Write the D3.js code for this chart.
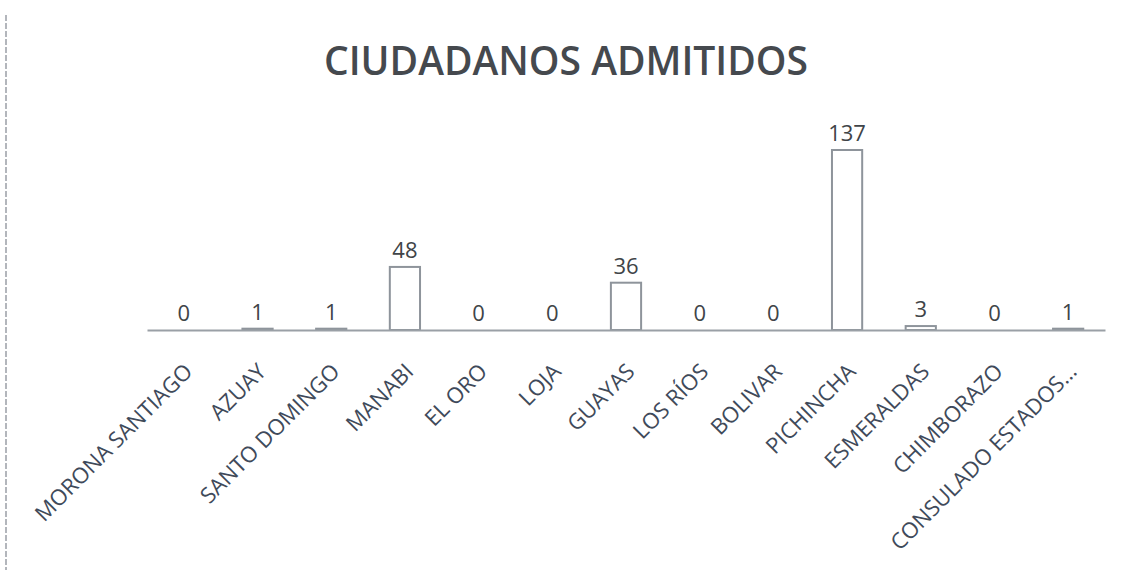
<!DOCTYPE html>
<html>
<head>
<meta charset="utf-8">
<script src="https://cdn.jsdelivr.net/npm/d3@7"></script>
<style>
  body { margin: 0; background: #fff; }
  svg { display: block; }
</style>
</head>
<body>
<div id="chart"></div>
<script>
// --- DATA ---
const categories = ['MORONA SANTIAGO', 'AZUAY', 'SANTO DOMINGO', 'MANABI', 'EL ORO', 'LOJA',
  'GUAYAS', 'LOS RÍOS', 'BOLIVAR', 'PICHINCHA', 'ESMERALDAS', 'CHIMBORAZO', 'CONSULADO ESTADOS…'];
const values = [0, 1, 1, 48, 0, 0, 36, 0, 0, 137, 3, 0, 1];
const chartTitle = 'CIUDADANOS ADMITIDOS';

// --- DIMENSIONS ---
const width = 1124, height = 570;
const margin = {top: 150, right: 19, bottom: 240, left: 147};
const baseY = height - margin.bottom;   // axis line

const font = '"Open Sans", "DejaVu Sans", sans-serif';
const textColor = '#404448';
const labelColor = '#3f4a5a';

const svg = d3.select('#chart').append('svg')
  .attr('width', width)
  .attr('height', height);

// left edge of the scanned page
svg.append('line')
  .attr('x1', 6).attr('x2', 6)
  .attr('y1', 15).attr('y2', height)
  .attr('stroke', '#9a9fa6')
  .attr('stroke-width', 1.5)
  .attr('stroke-dasharray', '6,2');

// --- SCALES ---
const x = d3.scaleBand()
  .domain(categories)
  .range([margin.left, width - margin.right])
  .paddingInner(0.59)
  .paddingOuter(0.295);

const y = d3.scaleLinear()
  .domain([0, 137])
  .range([baseY, margin.top]);

// --- TITLE ---
svg.append('text')
  .attr('x', 566)
  .attr('y', 75)
  .attr('text-anchor', 'middle')
  .style('font-family', font)
  .style('font-size', '39px')
  .style('font-weight', 600)
  .style('fill', '#45494e')
  .text(chartTitle);

// --- BARS ---
svg.append('g')
  .selectAll('rect')
  .data(values)
  .join('rect')
  .attr('x', (d, i) => x(categories[i]))
  .attr('y', d => y(d))
  .attr('width', x.bandwidth())
  .attr('height', d => baseY - y(d))
  .attr('fill', '#fff')
  .attr('stroke', '#8e949b')
  .attr('stroke-width', 2);

// --- AXIS ---
const xAxis = d3.axisBottom(x).tickSize(0).tickFormat('');
svg.append('g')
  .attr('transform', `translate(0,${baseY})`)
  .call(xAxis)
  .call(g => g.select('.domain')
    .attr('stroke', '#9aa0a6')
    .attr('stroke-width', 2));

// --- VALUE LABELS ---
svg.append('g')
  .selectAll('text')
  .data(values)
  .join('text')
  .attr('x', (d, i) => x(categories[i]) + x.bandwidth() / 2)
  .attr('y', d => y(d) - 9)
  .attr('text-anchor', 'middle')
  .style('font-family', font)
  .style('font-size', '22px')
  .style('fill', textColor)
  .text(d => d);

// --- CATEGORY LABELS ---
svg.append('g')
  .selectAll('text')
  .data(categories)
  .join('text')
  .attr('transform', d => `translate(${x(d) + x.bandwidth() / 2 + 10},${baseY + 43}) rotate(-45)`)
  .attr('text-anchor', 'end')
  .style('font-family', font)
  .style('font-size', '22px')
  .style('fill', labelColor)
  .text(d => d);
</script>
</body>
</html>
